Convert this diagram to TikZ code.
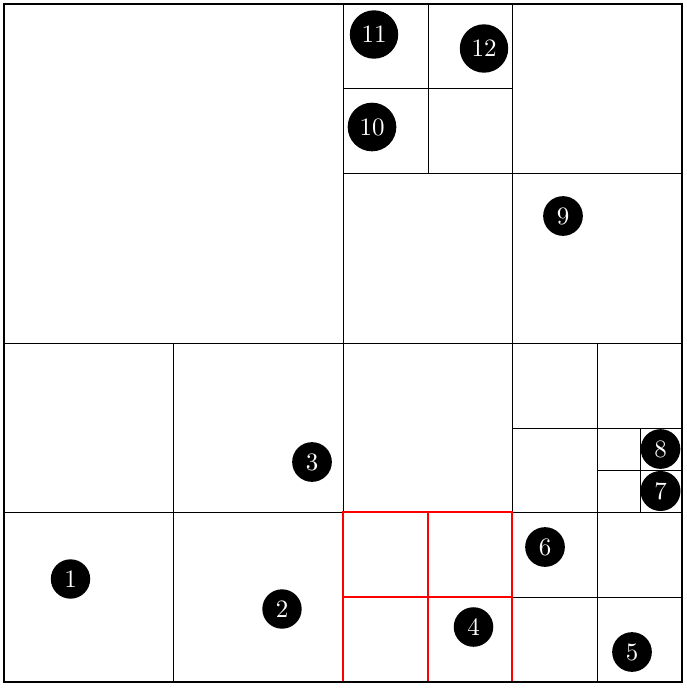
\documentclass[tikz,border=0pt]{standalone}
\usepackage{fontspec}
\newfontfamily\markfont{lmroman10-regular}[Extension=.otf]
\begin{document}
\begin{tikzpicture}[x=1pt,y=-1pt,
  grid/.style={line width=1pt, draw=black},
  outer/.style={line width=1.6pt, draw=black},
  redgrid/.style={line width=1.4pt, draw=red},
  marker/.style={circle, fill=black, text=white, inner sep=6.6pt, minimum size=38.5pt, font=\markfont\fontsize{25}{25}\selectfont}]
\useasboundingbox (0,0) rectangle (686,688);
% top-right quadrant
\draw[grid] (512,4) -- (512,343) (343,173) -- (682,173);
\draw[grid] (428,4) -- (428,173) (343,88) -- (512,88);
% bottom-left quadrant
\draw[grid] (173,343) -- (173,682) (4,512) -- (343,512);
% bottom-right quadrant
\draw[grid] (512,343) -- (512,682) (343,512) -- (682,512);
\draw[grid] (597,343) -- (597,512) (512,428) -- (682,428);
\draw[grid] (640,428) -- (640,512) (597,470) -- (682,470);
\draw[grid] (597,512) -- (597,682) (512,597) -- (682,597);
% halves
\draw[grid] (343,4) -- (343,682) (4,343) -- (682,343);
% red block
\draw[redgrid] (343,512) rectangle (512,682);
\draw[redgrid] (428,512) -- (428,682) (343,597) -- (512,597);
% outer border
\draw[outer] (4,4) rectangle (682,682);
% markers
\node[marker] (m1) at (70.5,579) {1};
\node[marker] (m2) at (282,609) {2};
\node[marker] (m3) at (312,462) {3};
\node[marker] (m4) at (473.5,627) {4};
\node[marker] (m5) at (632,652) {5};
\node[marker] (m6) at (545,547) {6};
\node[marker] (m7) at (660.5,491) {7};
\node[marker] (m8) at (660.5,449) {8};
\node[marker] (m9) at (563,216) {9};
\node[marker] (m10) at (372,127) {10};
\node[marker] (m11) at (374,34.5) {11};
\node[marker] (m12) at (484,48.5) {12};
\end{tikzpicture}
\end{document}
